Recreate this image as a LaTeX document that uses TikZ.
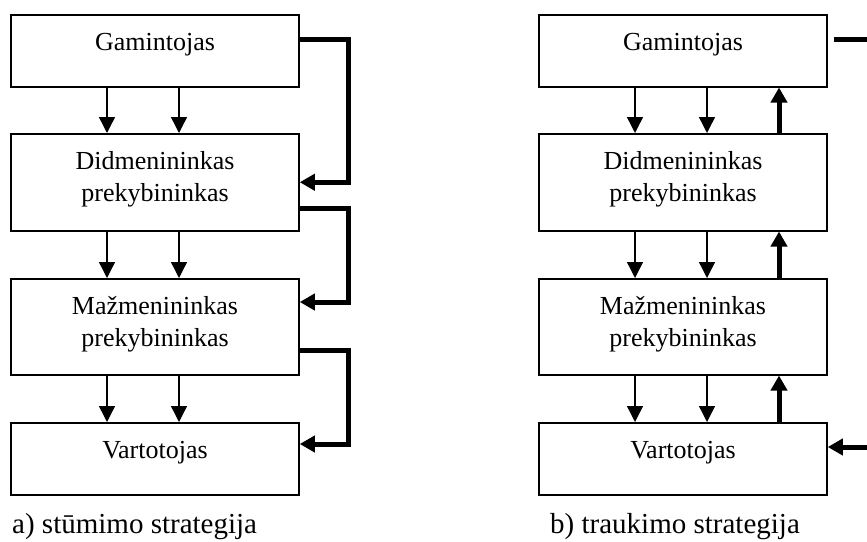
\documentclass[tikz,border=0pt]{standalone}
\usepackage{fontspec}
\setmainfont{Liberation Serif}
\usetikzlibrary{arrows.meta}
\tikzset{
  box/.style={draw=black, line width=1.5pt, minimum width=288pt, inner sep=0pt, anchor=north, align=center, font=\fontsize{26}{32}\selectfont},
  onel/.style={text height=36pt, text depth=36pt},
  twol/.style={text height=68pt, text depth=#1},
  arr/.style={draw=black, line width=1.4pt, -{Triangle[length=16pt,width=16pt]}},
  tarr/.style={draw=black, line width=5pt, -{Triangle[length=15pt,width=16pt]}},
  tline/.style={draw=black, line width=5pt},
  lbl/.style={font=\fontsize{29}{34}\selectfont, anchor=base west, inner sep=0pt}
}

\begin{document}
\begin{tikzpicture}[x=1pt,y=-1pt]
  \useasboundingbox (0,0) rectangle (867,541);

  % a) stumimo
  \node[box, onel] (a1) at (155,14) {Gamintojas};
  \node[box, twol=29pt] (a2) at (155,133) {Didmenininkas\\prekybininkas};
  \node[box, twol=28pt] (a3) at (155,278) {Mažmenininkas\\prekybininkas};
  \node[box, onel] (a4) at (155,422) {Vartotojas};

  % b) traukimo
  \node[box, onel] (b1) at (683,14) {Gamintojas};
  \node[box, twol=29pt] (b2) at (683,133) {Didmenininkas\\prekybininkas};
  \node[box, twol=28pt] (b3) at (683,278) {Mažmenininkas\\prekybininkas};
  \node[box, onel] (b4) at (683,422) {Vartotojas};

  \foreach \s/\t in {a1/a2,a2/a3,a3/a4,b1/b2,b2/b3,b3/b4}
    \foreach \dx in {-48,24}
      \draw[arr] ([xshift=\dx pt]\s.south) -- ([xshift=\dx pt]\t.north);

  \draw[tarr] ([yshift=-25pt]a1.north east) -- ++(49pt,0) |- (a2.east);
  \draw[tarr] ([yshift=23pt]a2.south east) -- ++(49pt,0) |- ([yshift=-24pt]a3.north east);
  \draw[tarr] ([yshift=25pt]a3.south east) -- ++(49pt,0) |- ([yshift=-22pt]a4.north east);

  \foreach \s/\t in {b4/b3,b3/b2,b2/b1}
    \draw[tarr] ([xshift=96pt]\s.north) -- ([xshift=96pt]\t.south);

  \coordinate (bout) at (872,39);
  \coordinate (bin) at (872,447);
  \draw[tline] ([xshift=6pt,yshift=-25pt]b1.north east) -- (bout);
  \draw[tarr] (bin) -- (bin -| b4.east);

  \node[lbl] (capa) at (12,533) {a) stūmimo strategija};
  \node[lbl] (capb) at (550,533) {b) traukimo strategija};
\end{tikzpicture}
\end{document}
